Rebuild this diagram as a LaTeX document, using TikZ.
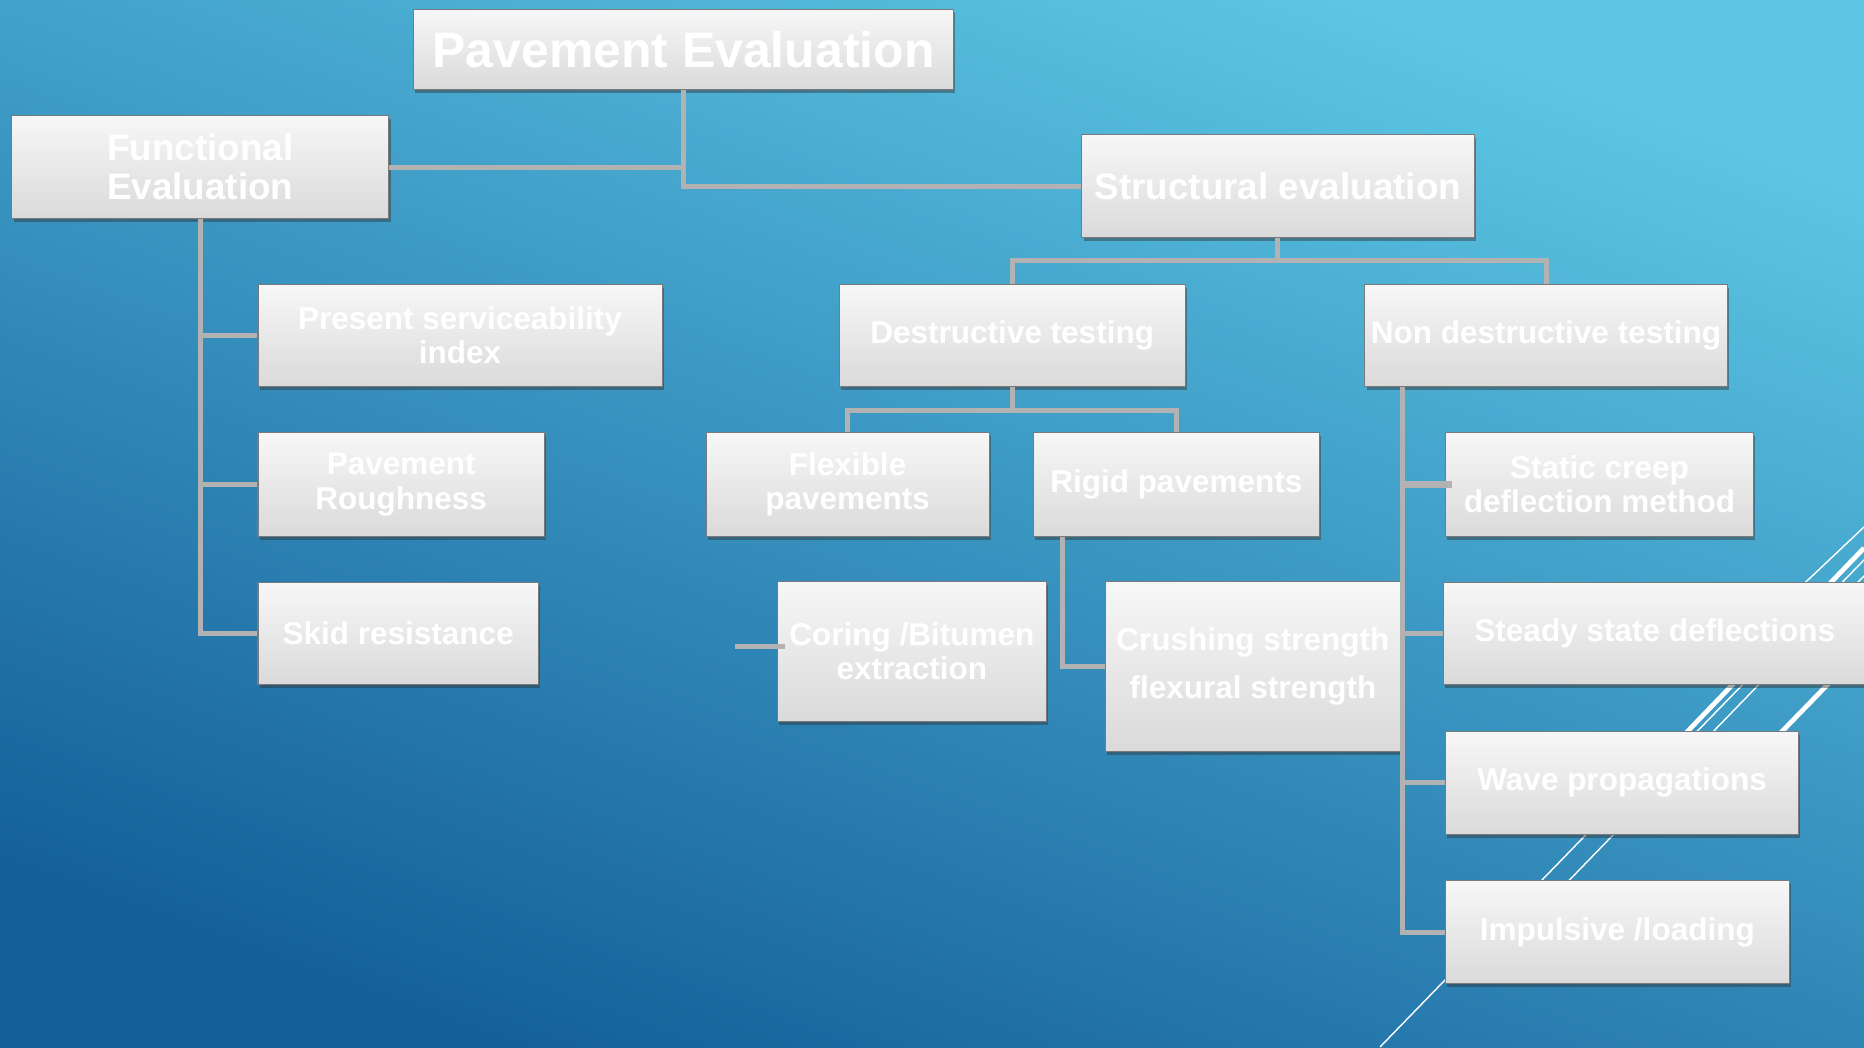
\documentclass[tikz,border=0pt]{standalone}
\usepackage{fontspec}
\setmainfont{Liberation Sans}
\usetikzlibrary{shadows,calc}

\definecolor{bgtop}{HTML}{5CC6E4}
\definecolor{bgbot}{HTML}{15609B}
\definecolor{boxtop}{HTML}{F7F7F7}
\definecolor{boxbot}{HTML}{DADADA}
\definecolor{boxedge}{HTML}{7A7A7A}
\definecolor{linkgray}{HTML}{B2B2B2}

\tikzset{
  card/.style={draw=boxedge, line width=0.9pt, top color=boxtop, bottom color=boxbot,
    text=white, align=center, inner sep=0pt,
    drop shadow={shadow xshift=1.5pt, shadow yshift=-3pt, opacity=0.45, fill=black!80}},
  bigtext/.style={font=\bfseries\fontsize{42}{46}\selectfont},
  midtext/.style={font=\bfseries\fontsize{31}{33}\selectfont},
  smalltext/.style={font=\bfseries\fontsize{26.5}{29}\selectfont},
  link/.style={draw=linkgray, line width=4.2pt},
  streak/.style={draw=white, line width=1.2pt},
  heavystreak/.style={draw=white, line width=4pt},
}

\begin{document}
\begin{tikzpicture}[x=1pt, y=-1pt]
  \useasboundingbox (0,0) rectangle (1568,881);
  % background
  \shade[top color=bgtop, bottom color=bgbot, shading angle=-20] (0,0) rectangle (1568,881);

  % decorative diagonal streaks
  \draw[streak] (1160.9,880.7) -- (1568,461);
  \draw[heavystreak] (1416.6,618.3) -- (1568,461);
  \draw[streak] (1303.9,757.1) -- (1568,484.5);
  \draw[streak] (1379.6,664.5) -- (1568,471);
  \draw[heavystreak] (1430,686.4) -- (1568,544.3);
  \draw[streak] (1476.3,530) -- (1568,443.3);

  % boxes
  \node[card, bigtext, minimum width=454pt, minimum height=67pt] (PE) at (575,41.5) {Pavement Evaluation};
  \node[card, midtext, minimum width=317pt, minimum height=87pt] (FE) at (168.5,140.5) {Functional\\Evaluation};
  \node[card, midtext, minimum width=330pt, minimum height=87pt] (SE) at (1075,156.5) {Structural evaluation};

  \node[card, smalltext, minimum width=340pt, minimum height=86pt] (PSI) at (387,282) {Present serviceability\\index};
  \node[card, smalltext, minimum width=241pt, minimum height=87pt] (PR) at (337.5,407.5) {Pavement\\Roughness};
  \node[card, smalltext, minimum width=236pt, minimum height=86pt] (SR) at (335,533) {Skid resistance};

  \node[card, smalltext, minimum width=291pt, minimum height=86pt] (DT) at (851.5,282) {Destructive testing};
  \node[card, smalltext, minimum width=305pt, minimum height=86pt] (NDT) at (1300.5,282) {Non destructive testing};

  \node[card, smalltext, minimum width=238pt, minimum height=87pt] (FP) at (713,407.5) {Flexible\\pavements};
  \node[card, smalltext, minimum width=241pt, minimum height=87pt] (RP) at (989.5,407.5) {Rigid pavements};
  \node[card, smalltext, minimum width=226pt, minimum height=118pt] (CB) at (767,548) {Coring /Bitumen\\extraction};
  \node[card, font=\bfseries\fontsize{26.5}{41}\selectfont, minimum width=248pt, minimum height=143pt] (CS) at (1054,560.5) {Crushing strength\\flexural strength};

  \node[card, smalltext, minimum width=259pt, minimum height=87pt] (SC) at (1345.5,407.5) {Static creep\\deflection method};
  \node[card, smalltext, minimum width=356pt, minimum height=86pt] (SS) at (1392,533) {Steady state deflections};
  \node[card, smalltext, minimum width=297pt, minimum height=87pt] (WP) at (1364.5,658.5) {Wave propagations};
  \node[card, smalltext, minimum width=289pt, minimum height=86pt] (IL) at (1360.5,784) {Impulsive /loading};

  % top level
  \draw[link] (PE.south) |- (SE.west);
  \draw[link] (FE.east) -- (FE.east -| PE.south);

  % functional branch
  \draw[link] (FE.south) |- (SR.west);
  \draw[link] (FE.south |- PSI.west) -- (PSI.west);
  \draw[link] (FE.south |- PR.west) -- (PR.west);

  % structural branch
  \coordinate (j1) at (1075,219);
  \draw[link] (SE.south) -- (j1);
  \draw[link] (DT.north) |- (j1) -| (NDT.north);

  % destructive testing
  \coordinate (j2) at (851.5,345);
  \draw[link] (DT.south) -- (j2);
  \draw[link] (FP.north) |- (j2) -| (RP.north);
  \coordinate (rpdrop) at ($(RP.south west)+(25,0)$);
  \draw[link] (rpdrop) |- (CS.west);
  \coordinate (cbtail) at (618,544);
  \draw[link] (cbtail) -- ([xshift=7pt]cbtail -| CB.west);

  % non destructive testing
  \coordinate (ndtdrop) at ($(NDT.south west)+(32,0)$);
  \draw[link] (ndtdrop) |- (IL.west);
  \draw[link] (ndtdrop |- SS.west) -- (SS.west);
  \draw[link] (ndtdrop |- WP.west) -- (WP.west);
  \draw[link, line width=5.5pt] ([xshift=2pt]ndtdrop |- SC.west) -- ([xshift=6pt]SC.west);
\end{tikzpicture}
\end{document}
